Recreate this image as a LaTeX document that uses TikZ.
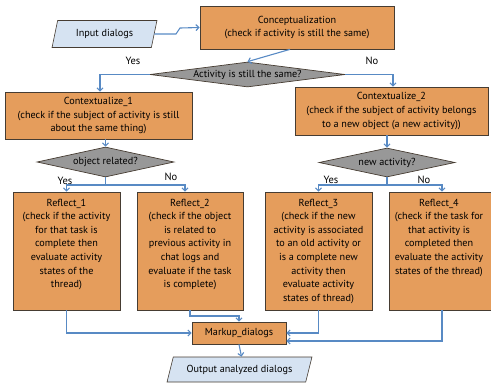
\documentclass[tikz,border=0pt]{standalone}
\usepackage{fontspec}
\setmainfont{PT Sans}
\usetikzlibrary{shapes.geometric,arrows.meta}
\definecolor{boxorange}{RGB}{229,157,92}
\definecolor{boxedge}{RGB}{70,60,50}
\definecolor{diagray}{RGB}{152,152,152}
\definecolor{ioblue}{RGB}{214,227,242}
\definecolor{arrblue}{RGB}{88,138,196}
\begin{document}
\begin{tikzpicture}[x=1pt,y={(0pt,-1pt)},
  txt/.style={font=\fontsize{10.2}{13.6}\selectfont, align=center},
  procbox/.style={draw=boxedge, fill=boxorange, line width=0.7pt, inner sep=0pt, txt},
  decision/.style={diamond, draw=boxedge, fill=diagray, line width=0.7pt, inner sep=0pt, aspect=7, txt},
  iobox/.style={trapezium, trapezium stretches=true, draw=boxedge, fill=ioblue, line width=0.6pt, inner sep=0pt, txt},
  arr/.style={draw=arrblue, line width=1.1pt, -{Straight Barb[length=3pt,width=6pt]}},
  lnk/.style={draw=arrblue, line width=1.1pt},
  lbl/.style={font=\fontsize{10.5}{12}\selectfont, inner sep=0pt}
]
\useasboundingbox (0,0) rectangle (491,384);

% input / output
\node[iobox, trapezium left angle=70, trapezium right angle=110, minimum width=105pt, minimum height=27pt] (input) at (104.5,34) {Input dialogs};
\node[iobox, trapezium left angle=62, trapezium right angle=118, minimum width=145pt, minimum height=25pt] (output) at (239.5,369.5) {Output analyzed dialogs};

% process boxes
\node[procbox, minimum width=194pt, minimum height=43pt] (conc) at (297,27.5) {Conceptualization\\(check if activity is still the same)};
\node[procbox, minimum width=187pt, minimum height=47pt] (ctx1) at (98.5,115.5) {Contextualize\_1\\(check if the subject of activity is still\\about the same thing)};
\node[procbox, minimum width=193pt, minimum height=48pt] (ctx2) at (391.5,111) {Contextualize\_2\\(check if the subject of activity belongs\\to a new object (a new activity))};

\node[procbox, minimum width=107pt, minimum height=118pt] (r1) at (66.5,251) {};
\node[procbox, minimum width=106pt, minimum height=118pt] (r2) at (190,251) {};
\node[procbox, minimum width=107pt, minimum height=118pt] (r3) at (318.5,251) {};
\node[procbox, minimum width=106pt, minimum height=118pt] (r4) at (442,251) {};
\node[txt, anchor=north, inner sep=0pt] (r1t) at ([yshift=-7pt]r1.north) {Reflect\_1\\(check if the activity\\for that task is\\complete then\\evaluate activity\\states of the\\thread)};
\node[txt, anchor=north, inner sep=0pt] (r2t) at ([yshift=-7pt]r2.north) {Reflect\_2\\(check if the object\\is related to\\previous activity in\\chat logs and\\evaluate if the task\\is complete)};
\node[txt, anchor=north, inner sep=0pt] (r3t) at ([yshift=-7pt]r3.north) {Reflect\_3\\(check if the new\\activity is associated\\to an old activity or\\is a complete new\\activity then\\evaluate activity\\states of thread)};
\node[txt, anchor=north, inner sep=0pt] (r4t) at ([yshift=-7pt,xshift=-3pt]r4.north) {Reflect\_4\\(check if the task for\\that activity is\\completed then\\evaluate the activity\\states of the thread)};

\node[procbox, minimum width=94pt, minimum height=22pt] (markup) at (239,333) {Markup\_dialogs};

% decisions
\node[decision, minimum width=195pt, minimum height=25pt] (d1) at (247.5,74.5) {Activity is still the same?};
\node[decision, minimum width=137pt, minimum height=30pt] (d2) at (105.5,162) {object related?};
\node[decision, minimum width=136pt, minimum height=29pt] (d3) at (387,162.5) {new activity?};

% labels
\node[lbl] (yes1) at (133,61) {Yes};
\node[lbl] (no1) at (372,61) {No};
\node[lbl] (yes2) at (65,181) {Yes};
\node[lbl] (no2) at (171,177) {No};
\node[lbl] (yes3) at (331,180) {Yes};
\node[lbl] (no3) at (424,180) {No};

% connectors
\draw[arr] (input.east) -- (176,34) -- (180,28) -- (conc.west);
\draw[arr] ([xshift=-7pt]conc.south) -- (d1.north);
\draw[arr] (d1.west) -| ([xshift=1.5pt]ctx1.north);
\draw[arr] (d1.east) -| ([xshift=1.5pt]ctx2.north);
\draw[arr] (ctx1.south -| d2.north) -- (d2.north);
\draw[arr] (ctx2.south -| d3.north) -- (d3.north);

\coordinate (j2) at (105.5,185);
\draw[lnk] (d2.south) -- (j2);
\draw[arr] (j2) -| (r1.north);
\draw[arr] (j2) -| ([xshift=-5pt]r2.north);
\coordinate (j3) at (387,185);
\draw[lnk] (d3.south) -- (j3);
\draw[arr] (j3) -| (r3.north);
\draw[arr] (j3) -| (r4.north);

\draw[arr] (r1.south) |- (markup.west);
\coordinate (k2) at (190,316);
\draw[arr] (r2.south) -- (k2) -| (markup.north);
\draw[arr] (r3.south) |- (markup.east);
\draw[arr] (r4.south) |- ([yshift=-8pt]markup.east);
\draw[arr] (markup.south) -- ([xshift=2pt]output.north);
\end{tikzpicture}
\end{document}
